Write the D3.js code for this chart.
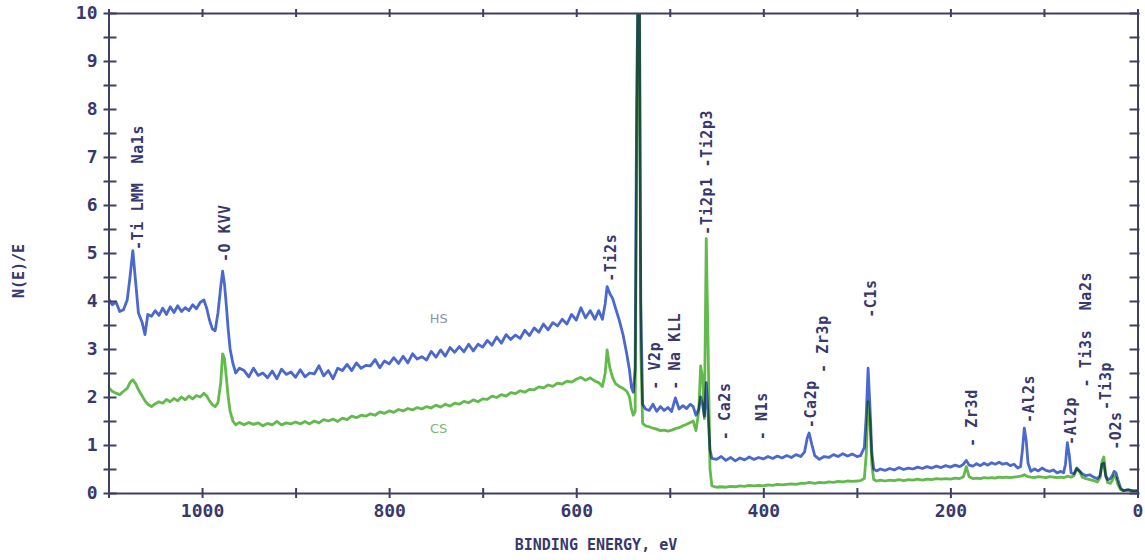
<!DOCTYPE html>
<html><head><meta charset="utf-8">
<script src="https://cdn.jsdelivr.net/npm/d3@7"></script>
<style>
html,body{margin:0;padding:0;background:#fff;}
svg{display:block;}
text{font-family:"DejaVu Sans Mono",monospace;}
</style></head><body>
<svg id="chart" width="1145" height="560"></svg>
<script>
// ---------- data (binding energy in eV, N(E)/E) ----------
const energy = [
1100,1096,1092,1088,1084,1080,1077,1074,1071,1068,1064,1061,1058,1054,1050,1046,1042,1038,1034,1030,1026,1022,1018,1014,1010,1006,1002,998,995,992,989,986,983,980,978,976,974,972,970,967,964,960,
955,950,945,940,935,930,925,920,915,910,905,900,
895,890,885,880,875,870,865,860,855,850,
845,840,835,830,825,820,815,810,805,800,
795,790,785,780,775,770,765,760,755,750,
745,740,735,730,725,720,715,710,705,700,
695,690,685,680,675,670,665,660,655,650,
645,640,635,630,625,620,615,610,605,600,
595,590,585,
580,576,572,569,567,564,561,558,554,550,
546,543,541,539,537,535.5,534,532.5,531,529,
526,522,518,514,510,506,502,498,494,490,
486,482,478,475,472,469,467,465,463,461,
459,457,455,450,445,440,435,430,425,420,
415,410,405,400,395,390,385,380,375,370,
365,360,356,353,351,348,345,340,335,330,
325,320,315,310,305,300,296,292,290,288,
286,284,282,279,275,270,265,260,255,250,
245,240,235,230,225,220,215,210,205,200,
195,190,186,183,180,176,172,168,164,160,
156,152,148,144,140,136,132,128,125,123,
121,119,117,114,110,106,102,98,94,90,
86,82,79,77,75,73,71,68,65,62,
59,55,51,47,43,40,38,36,34,32,
29,27,25,23,21,18,15,10,5,0
];
const hsValues = [
4.05,3.92,3.98,3.78,3.82,4.02,4.5,5.05,4.4,3.75,3.55,3.3,3.72,3.68,3.8,3.7,3.85,3.72,3.88,3.76,3.9,3.78,3.86,3.8,3.92,3.84,3.97,4.02,3.85,3.6,3.42,3.38,3.75,4.3,4.62,4.35,3.9,3.4,3.0,2.7,2.5,2.6,
2.55,2.42,2.6,2.45,2.5,2.4,2.54,2.38,2.58,2.47,2.52,2.41,
2.57,2.42,2.5,2.48,2.65,2.44,2.55,2.38,2.6,2.55,
2.68,2.55,2.71,2.6,2.66,2.65,2.78,2.61,2.75,2.69,
2.82,2.7,2.85,2.71,2.9,2.79,2.84,2.77,2.95,2.83,
2.98,2.85,3.03,2.93,3.05,2.94,3.1,2.96,3.1,3.04,
3.18,3.08,3.25,3.12,3.3,3.2,3.29,3.22,3.39,3.28,
3.44,3.35,3.52,3.4,3.55,3.48,3.62,3.52,3.72,3.6,
3.86,3.65,3.8,
3.62,3.8,3.62,3.95,4.3,4.15,4.05,3.85,3.6,3.3,
2.9,2.55,2.2,2.1,2.6,8.0,10.6,10.6,4.0,1.85,
1.75,1.72,1.85,1.7,1.8,1.72,1.78,1.7,1.98,1.75,
1.82,1.76,1.85,1.8,1.62,1.75,2.0,1.85,1.6,2.3,
1.6,0.9,0.72,0.7,0.76,0.68,0.74,0.67,0.73,0.69,
0.75,0.7,0.74,0.71,0.76,0.72,0.77,0.73,0.78,0.74,
0.8,0.76,0.85,1.15,1.25,1.0,0.78,0.7,0.76,0.74,
0.8,0.76,0.82,0.77,0.81,0.76,0.78,0.95,1.6,2.6,
1.8,0.85,0.5,0.46,0.5,0.47,0.51,0.48,0.53,0.49,
0.52,0.5,0.54,0.51,0.55,0.52,0.56,0.53,0.57,0.54,
0.58,0.55,0.6,0.68,0.58,0.56,0.61,0.57,0.62,0.58,
0.63,0.6,0.64,0.6,0.62,0.57,0.6,0.52,0.55,0.9,
1.35,1.1,0.62,0.45,0.5,0.46,0.52,0.47,0.45,0.48,
0.42,0.45,0.42,0.6,1.05,0.8,0.42,0.4,0.52,0.46,
0.4,0.36,0.38,0.33,0.3,0.36,0.6,0.62,0.35,0.28,
0.3,0.36,0.45,0.42,0.28,0.1,0.05,0.07,0.04,0.05
];
const csValues = [
2.2,2.12,2.08,2.05,2.12,2.18,2.3,2.36,2.28,2.15,2.02,1.92,1.85,1.8,1.86,1.9,1.87,1.95,1.9,1.97,1.92,2.0,1.94,2.02,1.96,2.03,2.0,2.08,2.02,1.92,1.84,1.8,1.88,2.3,2.9,2.8,2.4,2.0,1.7,1.5,1.42,1.47,
1.42,1.47,1.43,1.46,1.4,1.45,1.42,1.49,1.42,1.46,1.44,1.48,
1.44,1.49,1.44,1.5,1.46,1.53,1.5,1.54,1.49,1.56,
1.53,1.6,1.57,1.62,1.6,1.65,1.62,1.69,1.66,1.71,
1.68,1.74,1.71,1.76,1.73,1.78,1.75,1.8,1.77,1.83,
1.79,1.85,1.81,1.87,1.85,1.91,1.88,1.94,1.9,1.96,
1.95,2.02,1.99,2.05,2.02,2.09,2.07,2.13,2.1,2.16,
2.15,2.21,2.19,2.25,2.22,2.29,2.27,2.33,2.31,2.37,
2.41,2.35,2.4,
2.33,2.3,2.22,2.5,2.98,2.6,2.4,2.28,2.22,2.18,
2.12,2.0,1.75,1.62,1.7,6.5,10.6,10.6,3.0,1.45,
1.4,1.38,1.35,1.33,1.3,1.31,1.29,1.31,1.34,1.36,
1.4,1.43,1.47,1.5,1.3,1.7,2.65,2.4,1.55,5.3,
3.0,0.5,0.15,0.12,0.13,0.12,0.14,0.13,0.15,0.14,
0.16,0.15,0.16,0.15,0.17,0.16,0.18,0.17,0.18,0.19,
0.18,0.2,0.2,0.21,0.22,0.21,0.2,0.22,0.21,0.23,
0.22,0.24,0.23,0.25,0.24,0.25,0.26,0.3,0.8,1.9,
1.5,0.6,0.28,0.25,0.27,0.25,0.27,0.26,0.28,0.26,
0.28,0.27,0.29,0.27,0.29,0.28,0.3,0.29,0.3,0.29,
0.31,0.3,0.34,0.55,0.34,0.3,0.31,0.3,0.32,0.31,
0.32,0.31,0.33,0.32,0.33,0.32,0.33,0.34,0.35,0.36,
0.38,0.36,0.34,0.33,0.32,0.34,0.33,0.32,0.34,0.33,
0.32,0.33,0.32,0.33,0.35,0.34,0.33,0.36,0.5,0.45,
0.33,0.3,0.28,0.26,0.23,0.32,0.65,0.75,0.4,0.22,
0.2,0.26,0.36,0.32,0.18,0.07,0.05,0.06,0.05,0.04
];
const seriesNames = ["HS", "CS"];
const xTickLabels = [1000, 800, 600, 400, 200, 0];
const yTickLabels = [0,1,2,3,4,5,6,7,8,9,10];
const peakNames = ["-Ti LMM  Na1s","-O KVV","-Ti2s","- V2p","- Na KLL","-Ti2p1 -Ti2p3","- Ca2s","- N1s","-Ca2p","- Zr3p","-C1s","- Zr3d","-Al2s","-Al2p","- Ti3s  Na2s","-Ti3p","-O2s"];
const peakEnergies = [1068.5,975.4,563,516,494.6,460.4,441,401.5,349,336,284.8,176.7,116.7,71.7,55.7,34.3,23.6];
const peakLevels = [5.06,4.81,4.4,2.15,2.15,5.375,1.1,1.1,1.35,2.5,3.65,0.96,1.46,1.0,2.2,1.73,0.9];

// ---------- layout ----------
const L = 108.5, R = 1137.5, T = 13, B = 493;
const svg = d3.select("#chart");
const x = d3.scaleLinear().domain([1100, 0]).range([L, R]);
const y = d3.scaleLinear().domain([0, 10]).range([B, T]);
const axisColor = "#3f3f63";
const textColor = "#38386c";

svg.append("defs").append("clipPath").attr("id","plotclip")
  .append("rect").attr("x", L).attr("y", T).attr("width", R - L).attr("height", B - T);

// ---------- series ----------
const pts = (vals) => energy.map((e, i) => [e, vals[i]]);
const line = d3.line().x(d => x(d[0])).y(d => y(d[1]));
const plot = svg.append("g").attr("clip-path", "url(#plotclip)");
plot.append("path").datum(pts(hsValues)).attr("d", line)
  .attr("fill","none").attr("stroke","#4b69cd").attr("stroke-width",2.8).attr("stroke-linejoin","round");
plot.append("path").datum(pts(csValues)).attr("d", line)
  .attr("fill","none").attr("stroke","#62ba4c").attr("stroke-width",2.8).attr("stroke-linejoin","round")
  .style("mix-blend-mode","multiply");

// ---------- axes ----------
const axBottom = svg.append("g").attr("transform", `translate(0,${B})`)
  .call(d3.axisBottom(x).tickValues(d3.range(0, 1101, 100))
    .tickFormat(d => xTickLabels.includes(d) ? d : "").tickSize(5).tickSizeOuter(0));
axBottom.selectAll(".tick line").attr("y1", -5).attr("y2", 5);
axBottom.selectAll(".tick text").attr("y", 24).attr("dy", 0)
  .style("font-size","18px").style("font-weight","bold").attr("fill", textColor);

const axTop = svg.append("g").attr("transform", `translate(0,${T})`)
  .call(d3.axisTop(x).tickValues(d3.range(0, 1101, 100)).tickFormat("").tickSize(4).tickSizeOuter(0));
axTop.selectAll(".tick line").attr("y1", -4).attr("y2", 4);

const axLeft = svg.append("g").attr("transform", `translate(${L},0)`)
  .call(d3.axisLeft(y).tickValues(d3.range(0, 10.01, 0.5))
    .tickFormat(d => yTickLabels.includes(d) ? d : "").tickSize(6).tickPadding(5).tickSizeOuter(0));
axLeft.selectAll(".tick line").attr("x1", -5).attr("x2", 8);
axLeft.selectAll(".tick text").style("font-size","18px").style("font-weight","bold").attr("fill", textColor);

const axRight = svg.append("g").attr("transform", `translate(${R},0)`)
  .call(d3.axisRight(y).tickValues(d3.range(0, 10.01, 0.5)).tickFormat("").tickSize(2).tickSizeOuter(0));
axRight.selectAll(".tick line").attr("x1", -8).attr("x2", 2);

svg.selectAll(".domain").attr("stroke", axisColor).attr("stroke-width", 2);
svg.selectAll(".tick line").attr("stroke", axisColor).attr("stroke-width", 2);

// ---------- titles ----------
svg.append("text").attr("x", 596).attr("y", 550).attr("text-anchor","middle")
  .style("font-size","15px").style("font-weight","bold").attr("fill", textColor)
  .text("BINDING ENERGY, eV");
svg.append("text").attr("transform","translate(19,271) rotate(-90)").attr("text-anchor","middle")
  .attr("dy","0.35em").style("font-size","15px").style("font-weight","bold").attr("fill", textColor)
  .text("N(E)/E");

// series labels
svg.append("text").attr("x", x(747)).attr("y", y(3.55)).attr("text-anchor","middle")
  .style("font-family","DejaVu Sans").style("font-size","13px").attr("fill","#8d93ad").text(seriesNames[0]);
svg.append("text").attr("x", x(747)).attr("y", y(1.25)).attr("text-anchor","middle")
  .style("font-family","DejaVu Sans").style("font-size","13px").attr("fill","#7cb86a").text(seriesNames[1]);

// ---------- peak labels ----------
svg.append("g").selectAll("text").data(peakNames).join("text")
  .attr("transform", (d, i) => `translate(${x(peakEnergies[i])},${y(peakLevels[i])}) rotate(-90)`)
  .attr("dy", "0.35em")
  .style("white-space","pre").style("font-size","15px").style("font-weight","bold")
  .style("letter-spacing","0.6px")
  .attr("fill", textColor)
  .text(d => d);
</script>
</body></html>
